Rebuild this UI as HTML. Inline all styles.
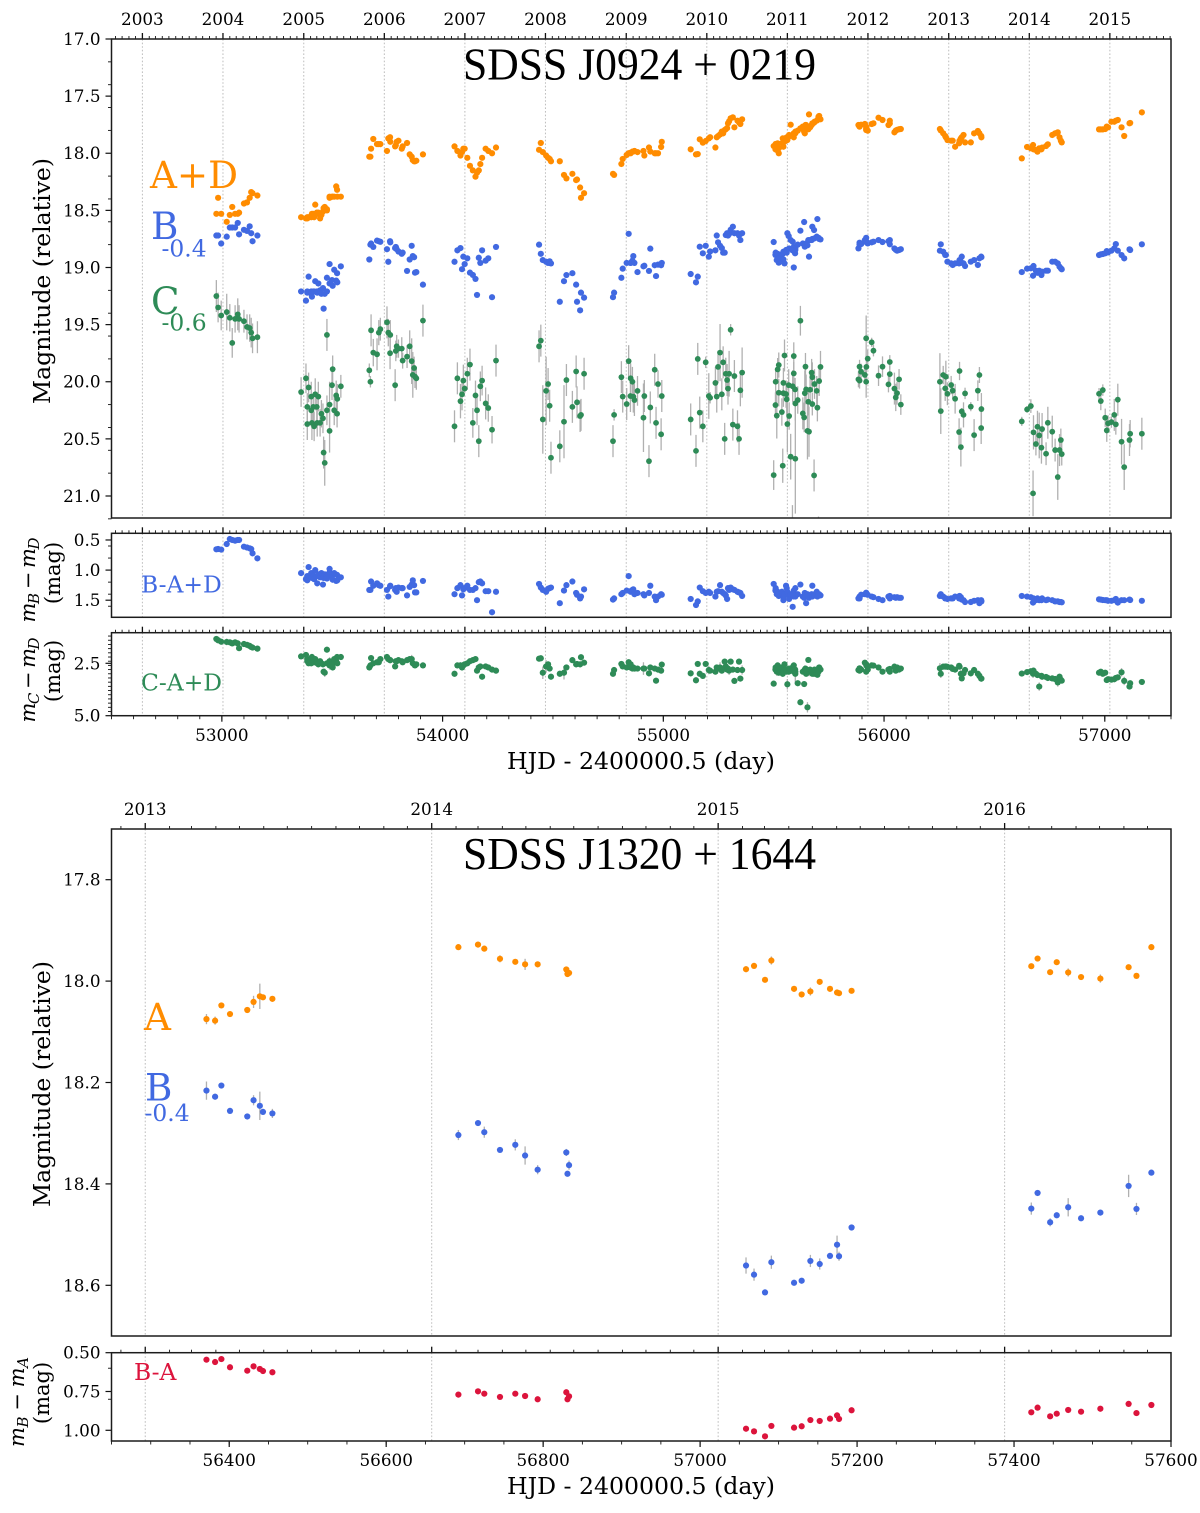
<!DOCTYPE html>
<html lang="en">
<head>
<meta charset="utf-8">
<title>SDSS J0924+0219 and SDSS J1320+1644 light curves</title>
<style>
html,body{margin:0;padding:0;background:#fff;}
svg{display:block;}
text{font-family:"DejaVu Serif","Liberation Serif",serif;fill:#000;}
.tick{font-size:16.8px;}
.axl{font-size:23.6px;}
.mathl{font-size:21px;}
.ttl{font-family:"Liberation Serif","DejaVu Serif",serif;font-size:45px;}
.big{font-size:37.3px;}
.sub{font-size:23.4px;}
</style>
</head>
<body>
<svg id="figure" xmlns="http://www.w3.org/2000/svg" width="1200" height="1513" viewBox="0 0 1200 1513">
<rect x="0" y="0" width="1200" height="1513" fill="#fff"/>
<g id="plots"></g>

<text class="ttl" x="463" y="79.5" textLength="353" lengthAdjust="spacingAndGlyphs">SDSS J0924 + 0219</text>
<text class="ttl" x="463" y="869" textLength="353" lengthAdjust="spacingAndGlyphs">SDSS J1320 + 1644</text>

<text class="big" x="150" y="188" style="fill:#ff8c00">A+D</text>
<text class="big" x="151" y="239" style="fill:#4169e1">B</text>
<text class="sub" x="161.5" y="256.5" style="fill:#4169e1">-0.4</text>
<text class="big" x="151" y="314" style="fill:#2e8b57">C</text>
<text class="sub" x="161.5" y="330.5" style="fill:#2e8b57">-0.6</text>
<text class="sub" x="141" y="592.5" style="fill:#4169e1">B-A+D</text>
<text class="sub" x="141" y="690.5" style="fill:#2e8b57">C-A+D</text>

<text class="big" x="144" y="1030" style="fill:#ff8c00">A</text>
<text class="big" x="145" y="1100.5" style="fill:#4169e1">B</text>
<text class="sub" x="144.5" y="1121" style="fill:#4169e1">-0.4</text>
<text class="sub" x="134" y="1380" style="fill:#dc143c">B-A</text>

<text class="axl" text-anchor="middle" transform="translate(50,281) rotate(-90)" textLength="246" lengthAdjust="spacingAndGlyphs">Magnitude (relative)</text>
<text class="axl" text-anchor="middle" transform="translate(50,1084) rotate(-90)" textLength="246" lengthAdjust="spacingAndGlyphs">Magnitude (relative)</text>
<text class="axl" text-anchor="middle" x="641" y="769">HJD - 2400000.5 (day)</text>
<text class="axl" text-anchor="middle" x="641" y="1494">HJD - 2400000.5 (day)</text>

<text class="mathl" text-anchor="middle" transform="translate(35,580) rotate(-90)" textLength="85"><tspan font-style="italic">m</tspan><tspan font-style="italic" font-size="15" dy="4">B</tspan><tspan dy="-4"> − </tspan><tspan font-style="italic">m</tspan><tspan font-style="italic" font-size="15" dy="4">D</tspan></text>
<text class="mathl" text-anchor="middle" transform="translate(60,573) rotate(-90)">(mag)</text>
<text class="mathl" text-anchor="middle" transform="translate(35,680) rotate(-90)" textLength="85"><tspan font-style="italic">m</tspan><tspan font-style="italic" font-size="15" dy="4">C</tspan><tspan dy="-4"> − </tspan><tspan font-style="italic">m</tspan><tspan font-style="italic" font-size="15" dy="4">D</tspan></text>
<text class="mathl" text-anchor="middle" transform="translate(60,671) rotate(-90)">(mag)</text>
<text class="mathl" text-anchor="middle" transform="translate(24,1402) rotate(-90)" textLength="90"><tspan font-style="italic">m</tspan><tspan font-style="italic" font-size="15" dy="4">B</tspan><tspan dy="-4"> − </tspan><tspan font-style="italic">m</tspan><tspan font-style="italic" font-size="15" dy="4">A</tspan></text>
<text class="mathl" text-anchor="middle" transform="translate(49,1393) rotate(-90)">(mag)</text>
</svg>

<script>
// ---------- Chart 1: SDSS J0924+0219 (one row per observing season) ----------
const epochs1 = [
52975,52983,52997,53022,53036,53047,53060,53072,53078,53100,53114,53126,53133,53139,53161,
53359,53381,53387,53387,53393,53405,53405,53408,53414,53418,53423,53430,53432,53437,53445,53451,53458,53461,53466,53476,53476,53488,53488,53499,53502,53509,53518,53522,53523,53539,
53668,53673,53676,53686,53703,53711,53718,53748,53754,53762,53763,53785,53788,53792,53800,53815,53819,53839,53851,53860,53865,53871,53875,53881,53911,
54054,54067,54081,54088,54094,54100,54112,54124,54137,54149,54156,54164,54171,54179,54195,54207,54224,54242,
54437,54445,54454,54469,54478,54485,54491,54531,54550,54561,54588,54605,54609,54623,54627,54641,
54772,54777,54810,54816,54834,54843,54851,54852,54860,54864,54869,54883,54910,54914,54935,54941,54961,54967,54976,54990,54993,
55124,55148,55156,55165,55179,55192,55206,55212,55236,55242,55248,55257,55265,55271,55278,55283,55289,55293,55298,55305,55315,55322,55336,55343,55349,55357,
55500,55508,55509,55514,55518,55523,55523,55537,55541,55544,55544,55549,55556,55559,55562,55568,55570,55577,55586,55591,55591,55597,55598,55598,55609,55621,55632,55638,55641,55644,55647,55653,55657,55660,55665,55672,55675,55675,55683,55685,55695,55698,55706,55712,55585,55703,
55884,55889,55889,55896,55913,55919,55919,55920,55926,55944,55952,55975,55993,56020,56026,56026,56047,56053,56059,56068,56076,
56253,56257,56268,56277,56280,56287,56304,56311,56322,56340,56342,56348,56352,56360,56367,56393,56408,56425,56432,56440,56441,
56624,56648,56665,56675,56677,56688,56695,56703,56713,56716,56734,56742,56762,56775,56787,56795,56801,56805,
56974,56982,56991,57002,57009,57015,57030,57043,57050,57059,57076,57088,57112,57115,57168
];
const magAD = [
18.53,18.39,18.53,18.60,18.54,18.47,18.53,18.53,18.52,18.44,18.43,18.39,18.34,18.35,18.37,
18.56,18.57,18.57,18.56,18.56,18.55,18.56,18.53,18.53,18.56,18.45,18.52,18.53,18.52,18.57,18.54,18.51,18.48,18.47,18.50,18.49,18.38,18.39,18.38,18.38,18.38,18.29,18.32,18.38,18.38,
18.03,18.03,17.96,17.875,17.92,17.92,17.92,17.98,17.87,17.86,17.90,17.94,17.93,17.90,17.89,17.96,17.94,17.91,18.01,18.03,18.06,18.07,18.07,18.065,18.01,
17.94,17.98,18.02,17.99,17.96,17.96,18.04,18.11,18.15,18.205,18.17,18.15,18.095,18.04,17.96,17.98,18.0,17.95,
17.97,17.91,17.99,18.02,18.04,18.05,18.07,18.07,18.19,18.22,18.18,18.235,18.23,18.30,18.39,18.35,
18.18,18.19,18.094,18.05,18.015,18.0,17.995,18.0,17.986,17.985,17.98,17.99,17.98,18.02,17.95,17.985,18.0,18.0,18.0,17.945,17.90,
17.966,18.01,18.007,17.878,17.907,17.893,17.87,17.86,17.95,17.86,17.85,17.835,17.81,17.826,17.797,17.79,17.78,17.738,17.72,17.694,17.686,17.773,17.715,17.73,17.744,17.703,
17.937,17.966,17.919,17.972,17.913,18.0,17.957,17.913,17.87,17.899,17.943,17.899,17.884,17.861,17.884,17.855,17.84,17.75,17.84,17.861,17.826,17.826,17.811,17.826,17.802,17.782,17.767,17.811,17.826,17.753,17.753,17.773,17.79,17.66,17.773,17.753,17.744,17.738,17.732,17.724,17.715,17.709,17.674,17.703,17.84,17.68,
17.753,17.767,17.755,17.75,17.744,17.797,17.78,17.77,17.802,17.744,17.738,17.689,17.709,17.753,17.715,17.74,17.817,17.802,17.795,17.79,17.788,
17.788,17.80,17.826,17.849,17.86,17.884,17.89,17.89,17.943,17.913,17.89,17.87,17.86,17.84,17.905,17.905,17.826,17.805,17.826,17.849,17.861,
18.045,17.945,17.957,17.928,17.966,17.972,17.986,17.957,17.966,17.951,17.937,17.922,17.84,17.826,17.817,17.861,17.89,17.905,
17.791,17.791,17.791,17.788,17.767,17.773,17.724,17.724,17.715,17.709,17.773,17.849,17.738,17.735,17.642
];
const magB = [
18.72,18.72,18.79,18.73,18.65,18.65,18.65,18.61,18.71,18.67,18.68,18.64,18.70,18.77,18.72,
19.21,19.29,19.22,19.21,19.08,19.23,19.21,19.255,19.21,19.21,19.12,19.21,19.22,19.14,19.20,19.23,19.18,19.36,19.23,19.09,19.21,19.14,18.97,19.11,19.16,19.02,19.115,19.05,19.13,18.99,
18.93,18.80,18.79,18.82,18.765,18.77,18.775,18.84,18.95,18.77,18.78,18.83,18.82,18.84,18.86,18.88,18.87,19.03,18.93,18.81,18.90,18.91,19.045,19.04,19.15,
18.95,18.85,18.83,19.015,18.905,18.97,18.92,19.045,19.065,19.10,19.24,18.915,18.96,18.85,18.94,18.92,19.26,18.82,
18.80,18.88,18.935,18.95,18.96,18.946,18.964,19.30,19.12,19.066,19.05,19.15,19.30,19.375,19.22,19.264,
19.26,19.22,19.09,19.01,18.96,18.705,18.96,18.96,18.94,18.90,18.96,19.04,18.99,18.985,19.03,18.835,18.98,19.075,18.975,18.98,18.96,
19.057,19.13,19.08,18.818,18.876,18.81,18.905,18.86,18.85,18.72,18.78,18.81,18.83,18.87,18.87,18.716,18.70,18.72,18.707,18.67,18.643,18.70,18.70,18.72,18.76,18.70,
18.777,18.89,18.87,18.935,18.88,18.958,18.92,18.885,18.88,18.862,18.93,18.964,18.847,18.87,18.70,18.725,18.833,18.76,18.774,19.0,18.82,18.876,18.847,18.83,18.80,18.678,18.79,18.602,18.818,18.80,18.79,18.806,18.76,18.905,18.76,18.76,18.643,18.75,18.672,18.745,18.73,18.576,18.75,18.754,18.85,18.74,
18.833,18.783,18.80,18.795,18.76,18.74,18.77,18.78,18.789,18.78,18.774,18.76,18.777,18.77,18.76,18.797,18.833,18.845,18.853,18.847,18.84,
18.853,18.797,18.862,18.89,18.89,18.949,18.964,18.978,18.964,18.964,18.935,18.95,18.905,18.964,18.987,18.949,18.935,18.978,18.92,18.905,18.91,
19.04,19.01,19.007,19.072,18.987,19.028,19.046,19.028,19.066,19.037,19.028,19.028,18.949,18.949,18.964,18.993,19.007,19.016,
18.891,18.885,18.882,18.876,18.856,18.868,18.853,18.833,18.795,18.853,18.891,18.92,18.841,18.847,18.797
];
const magC = [
19.25,19.35,19.42,19.39,19.44,19.66,19.45,19.41,19.45,19.47,19.52,19.53,19.57,19.62,19.61,
20.09,19.97,20.22,20.37,20.05,20.13,20.25,20.36,20.22,20.39,20.11,20.22,20.36,20.13,20.36,20.28,20.32,20.62,20.71,19.59,20.25,20.20,20.43,20.03,19.89,20.25,20.12,20.28,20.15,20.04,
19.90,20.00,19.55,19.745,19.76,19.57,19.54,19.48,19.57,19.75,19.59,20.03,19.73,19.69,19.71,19.71,19.815,19.78,19.69,19.82,19.94,19.88,19.955,19.97,19.465,
20.39,19.97,20.17,20.11,19.99,20.06,19.93,19.85,20.36,20.12,20.25,20.52,20.04,19.99,20.19,20.23,20.42,19.815,
19.69,19.64,20.33,20.08,20.02,20.21,20.665,20.565,20.35,19.985,20.22,19.91,20.18,20.30,20.29,19.93,
20.52,20.29,19.96,20.13,20.195,19.82,20.125,19.97,20.0,20.13,20.16,20.08,20.315,20.125,20.695,20.225,19.895,20.36,20.02,20.46,20.125,
20.33,20.605,19.80,20.27,20.39,19.83,20.125,20.14,20.01,20.13,19.87,19.745,20.11,19.83,20.50,19.93,19.985,20.06,19.93,19.545,20.375,19.95,20.39,20.50,20.075,19.92,
20.817,20.204,20.0,20.297,19.892,20.096,19.854,20.265,20.735,20.01,20.10,19.77,20.108,20.154,20.37,20.03,20.30,20.656,20.04,19.775,19.927,20.067,20.674,20.19,20.16,19.466,20.277,20.312,20.10,19.868,20.067,20.43,20.175,20.437,20.07,19.92,20.195,19.96,20.82,20.02,20.08,20.227,19.994,19.87,21.25,21.35,
19.979,19.99,19.868,19.912,19.94,20.0,19.62,19.87,19.798,19.655,19.728,19.947,19.868,20.023,19.827,19.933,20.06,20.137,20.1,19.979,20.2,
20.0,20.257,19.941,20.058,19.956,20.105,20.029,20.078,20.149,20.44,19.906,20.572,20.26,20.29,20.102,20.218,20.467,20.078,19.941,20.405,20.239,
20.347,20.242,20.213,20.977,20.443,20.545,20.394,20.47,20.577,20.414,20.63,20.359,20.437,20.598,20.834,20.598,20.51,20.633,
20.105,20.169,20.073,20.315,20.426,20.364,20.353,20.29,20.373,20.157,20.525,20.747,20.51,20.455,20.455
];
const errC = [
.14,.13,.13,.16,.12,.13,.12,.14,.12,.1,.11,.12,.13,.13,.14,
.13,.13,.12,.14,.13,.13,.14,.15,.12,.13,.14,.13,.12,.13,.12,.12,.13,.14,.2,.14,.13,.2,.19,.13,.12,.13,.13,.12,.13,.1,
.06,.05,.14,.12,.14,.11,.1,.14,.12,.14,.13,.14,.09,.1,.08,.1,.07,.1,.14,.2,.2,.1,.1,.1,.14,
.14,.14,.15,.14,.14,.03,.14,.14,.13,.13,.13,.14,.13,.13,.14,.12,.12,.14,
.14,.14,.3,.3,.14,.14,.14,.14,.32,.14,.14,.14,.14,.14,.14,.14,
.14,.05,.14,.14,.14,.14,.14,.13,.13,.14,.14,.13,.3,.14,.14,.14,.14,.14,.12,.14,.14,
.14,.14,.14,.14,.14,.05,.2,.05,.14,.14,.14,.25,.14,.14,.14,.14,.14,.14,.2,.05,.14,.14,.14,.14,.14,.22,
.13,.11,.12,.2,.10,.12,.11,.12,.15,.13,.12,.14,.12,.14,.25,.14,.12,.2,.14,.12,.1,.1,.48,.15,.12,.13,.14,.13,.2,.12,.13,.25,.12,.22,.13,.12,.1,.13,.14,.13,.13,.12,.13,.14,.17,.17,
.07,.07,.06,.07,.07,.14,.2,.1,.08,.04,.05,.09,.09,.07,.06,.07,.14,.12,.1,.09,.09,
.25,.2,.08,.11,.14,.1,.08,.07,.13,.12,.08,.17,.03,.11,.05,.04,.14,.09,.07,.14,.14,
.04,.03,.06,.2,.15,.1,.14,.2,.14,.14,.1,.14,.14,.1,.2,.14,.1,.1,
.05,.08,.05,.08,.1,.07,.05,.14,.09,.14,.2,.2,.14,.12,.14
];
const diffBAD = [
.655,.65,.66,.567,.484,.50,.511,.50,.50,.611,.625,.639,.65,.722,.805,
1.05,1.15,1.10,1.17,.95,1.12,1.05,1.13,1.09,1.15,1.00,1.10,1.22,1.07,1.12,1.05,1.24,1.13,1.07,1.10,1.14,.98,1.04,1.10,1.16,1.05,1.18,1.08,1.17,1.12,
1.33,1.33,1.19,1.26,1.22,1.25,1.26,1.33,1.44,1.27,1.26,1.33,1.30,1.36,1.29,1.30,1.30,1.42,1.28,1.24,1.17,1.25,1.37,1.37,1.18,
1.40,1.30,1.25,1.42,1.32,1.30,1.26,1.33,1.33,1.30,1.50,1.20,1.19,1.22,1.35,1.35,1.70,1.36,
1.23,1.29,1.33,1.36,1.31,1.30,1.29,1.55,1.34,1.25,1.19,1.38,1.41,1.47,1.44,1.32,
1.49,1.47,1.40,1.38,1.34,1.10,1.35,1.36,1.33,1.32,1.40,1.38,1.40,1.42,1.38,1.26,1.44,1.50,1.44,1.40,1.41,
1.48,1.58,1.52,1.29,1.35,1.38,1.36,1.38,1.44,1.36,1.35,1.25,1.36,1.38,1.40,1.42,1.48,1.30,1.33,1.29,1.32,1.33,1.36,1.37,1.38,1.43,
1.23,1.34,1.30,1.40,1.36,1.43,1.38,1.36,1.42,1.50,1.45,1.40,1.26,1.30,1.36,1.42,1.48,1.40,1.61,1.44,1.34,1.42,1.44,1.30,1.40,1.24,1.44,1.46,1.38,1.42,1.55,1.40,1.44,1.46,1.42,1.40,1.26,1.44,1.42,1.40,1.36,1.44,1.40,1.42,1.40,1.41,
1.47,1.47,1.44,1.41,1.40,1.375,1.39,1.40,1.41,1.44,1.45,1.48,1.50,1.44,1.43,1.47,1.45,1.46,1.45,1.46,1.46,
1.43,1.40,1.44,1.47,1.47,1.48,1.47,1.47,1.44,1.47,1.43,1.45,1.49,1.50,1.53,1.53,1.51,1.50,1.55,1.50,1.52,
1.43,1.44,1.45,1.54,1.47,1.50,1.47,1.50,1.50,1.47,1.50,1.49,1.50,1.52,1.52,1.53,1.53,1.535,
1.486,1.49,1.497,1.50,1.50,1.51,1.51,1.50,1.48,1.54,1.50,1.50,1.49,1.497,1.51
];
const diffCAD = [
1.34,1.40,1.47,1.48,1.50,1.55,1.50,1.55,1.78,1.58,1.62,1.67,1.72,1.75,1.80,
2.17,2.1,2.3,2.4,2.5,2.25,2.5,2.2,2.4,2.45,2.3,2.45,2.5,2.55,2.4,2.5,2.55,2.9,2.95,1.85,2.5,2.6,2.4,2.55,2.7,2.3,2.4,2.2,2.5,2.2,
2.7,2.6,2.25,2.5,2.45,2.45,2.3,2.2,2.3,2.35,2.35,2.65,2.4,2.4,2.35,2.4,2.45,2.35,2.3,2.3,2.5,2.55,2.6,2.55,2.6,
3.0,2.6,2.6,2.7,2.6,2.55,2.5,2.4,2.35,2.3,2.85,2.7,2.65,3.14,2.65,2.7,2.8,2.85,
2.28,2.26,2.95,2.65,2.55,2.75,3.14,3.0,2.95,2.7,2.35,2.55,2.53,2.55,2.21,2.47,
3.0,2.82,2.53,2.65,2.7,2.45,2.7,2.55,2.75,2.7,2.75,2.75,2.75,2.75,2.98,2.7,2.75,3.33,2.8,2.85,2.56,
2.98,3.31,2.53,3.0,3.1,2.53,2.82,2.85,2.9,2.7,2.75,2.7,2.85,2.75,2.42,2.65,2.8,2.75,2.85,2.42,2.8,3.34,2.82,2.42,3.23,2.82,
3.47,2.8,2.7,2.9,2.6,2.95,2.8,2.7,3.0,2.85,2.9,2.55,2.8,2.9,3.5,2.9,2.75,2.8,2.7,2.6,2.9,2.8,3.0,2.9,3.45,4.36,2.9,3.49,2.8,2.75,3.0,4.6,2.34,2.9,2.8,2.9,3.0,2.85,3.0,2.8,2.9,3.05,2.7,2.8,2.85,2.9,
2.82,2.85,2.74,2.8,2.47,2.9,2.55,2.6,2.8,2.6,2.61,2.7,2.9,2.8,2.9,2.77,2.66,2.85,2.7,2.8,2.75,
2.74,3.0,2.66,2.66,2.65,2.67,2.7,2.77,2.8,2.62,2.66,3.0,3.22,2.98,2.82,2.98,2.82,3.0,3.1,3.23,3.23,
2.99,2.92,2.88,3.0,2.85,3.0,3.06,3.61,3.1,3.14,3.15,3.2,3.22,3.25,3.41,3.14,3.28,3.33,
2.95,2.9,3.0,2.95,3.3,3.26,3.28,3.26,3.2,3.17,2.93,3.34,3.61,3.45,3.39
];

// ---------- Chart 2: SDSS J1320+1644 ----------
const epochs2 = [
56371,56382,56390,56401,56423,56431,56439,56443,56455,
56692,56717,56725,56745,56764.5,56777,56793,56829.5,56833,56831,
57058.5,57068.7,57082.7,57090.8,57119.7,57129.4,57140.5,57152.4,57165.5,57174.5,57177,57193,
57422,57430,57446,57454.4,57469,57485.4,57510,57546,57556,57575
];
const magA2 = [
18.075,18.078,18.048,18.065,18.057,18.041,18.03,18.032,18.035,
17.933,17.928,17.936,17.956,17.962,17.967,17.967,17.977,17.984,17.986,
17.9765,17.970,17.9975,17.9594,18.0153,18.0264,18.0205,18.0015,18.0153,18.0225,18.0238,18.0192,
17.9706,17.9555,17.9824,17.9627,17.983,17.992,17.995,17.9726,17.9897,17.933
];
const errA2 = [
.01,.008,.004,.004,.004,.012,.025,.004,.004,
.003,.003,.004,.007,.004,.011,.004,.004,.004,.004,
.006,.003,.003,.008,.003,.003,.008,.003,.003,.003,.003,.003,
.003,.003,.003,.003,.008,.003,.008,.004,.003,.003
];
const magB2 = [
18.216,18.228,18.206,18.256,18.267,18.235,18.246,18.258,18.261,
18.3036,18.28,18.298,18.333,18.323,18.344,18.372,18.338,18.363,18.380,
18.561,18.579,18.614,18.5545,18.595,18.591,18.552,18.558,18.542,18.520,18.5427,18.486,
18.4487,18.4179,18.4757,18.4619,18.4461,18.4678,18.4566,18.404,18.4494,18.3778
];
const errB2 = [
.018,.006,.004,.005,.004,.01,.028,.006,.009,
.01,.004,.011,.004,.011,.018,.009,.007,.009,.005,
.016,.012,.004,.013,.004,.004,.012,.011,.004,.018,.009,.004,
.012,.003,.008,.004,.018,.003,.003,.022,.012,.003
];
const diffBA2 = [
.545,.560,.541,.594,.616,.588,.605,.618,.626,
.770,.749,.764,.785,.764,.779,.800,.755,.781,.800,
.990,1.007,1.039,.972,.983,.974,.934,.940,.925,.904,.927,.871,
.884,.854,.910,.893,.869,.880,.861,.830,.889,.837
];

// ---------- Tick labels ----------
const yearsChart1 = [2003,2004,2005,2006,2007,2008,2009,2010,2011,2012,2013,2014,2015];
const yearsChart2 = [2013,2014,2015,2016];
const ticksMag1 = [17.0,17.5,18.0,18.5,19.0,19.5,20.0,20.5,21.0];
const minorMag1 = [17.2,17.4,17.6,17.8,18.2,18.4,18.6,18.8,19.2,19.4,19.6,19.8,20.2,20.4,20.6,20.8,21.2];
const ticksBAD = [0.5,1.0,1.5];
const minorBAD = [0.6,0.8,1.2,1.4,1.6];
const ticksCAD = [2.5,5.0];
const minorCAD = [1.2,1.4,1.6,1.8,2.0,2.2,2.4,2.6,2.8,3.0,3.2,3.4,3.6,3.8,4.0,4.2,4.4,4.6,4.8];
const ticksMag2 = [17.8,18.0,18.2,18.4,18.6];
const ticksBA2 = [0.50,0.75,1.00];
const minorBA2 = [0.6,0.8];
const ticksDay1 = [53000,54000,55000,56000,57000];
const ticksDay2 = [56400,56600,56800,57000,57200,57400,57600];

const colorAD = '#ff8c00';
const colorB = '#4169e1';
const colorC = '#2e8b57';
const colorBA = '#dc143c';

const NS = 'http://www.w3.org/2000/svg';
const root = document.getElementById('plots');

function make(tag, attrs, parent) {
  const node = document.createElementNS(NS, tag);
  for (const k in attrs) node.setAttribute(k, attrs[k]);
  parent.appendChild(node);
  return node;
}

function makePanel(id, box, xDomain, yDomain, yearList) {
  const sx = (box.right - box.left) / (xDomain[1] - xDomain[0]);
  const sy = (box.bottom - box.top) / (yDomain[1] - yDomain[0]);
  const p = {
    id: id, box: box, yearList: yearList,
    xDomain: xDomain,
    x: function (d) { return box.left + (d - xDomain[0]) * sx; },
    y: function (m) { return box.top + (m - yDomain[0]) * sy; }
  };
  p.g = make('g', {}, root);
  
  
  const clip = make('clipPath', { id: 'clip-' + id }, p.g);
  make('rect', { x: box.left, y: box.top, width: box.right - box.left, height: box.bottom - box.top }, clip);
  p.marks = make('g', { 'clip-path': 'url(#clip-' + id + ')' }, p.g);
  return p;
}

function yearDay(y, m) { return Date.UTC(y, m, 1) / 86400000 + 40587; }

function drawYearLines(p) {
  p.yearList.forEach(function (yr) {
    const xp = p.x(yearDay(yr, 0));
    const line = make('line', { x1: xp, x2: xp, y1: p.box.top, y2: p.box.bottom, stroke: '#bdbdbd', 'stroke-width': 1, 'stroke-dasharray': '1.6 2' }, p.marks);
    
    
  });
}

function drawTopTicks(p, labelBaseline) {
  for (let yr = 2001; yr <= 2018; yr++) {
    for (let mo = 0; mo < 12; mo++) {
      const d = yearDay(yr, mo);
      if (d < p.xDomain[0] || d > p.xDomain[1]) continue;
      const xp = p.x(d);
      const len = (mo === 0 && p.yearList.indexOf(yr) >= 0) ? 6 : 3;
      const t = make('line', { x1: xp, x2: xp, y1: p.box.top, y2: p.box.top - len, stroke: '#111', 'stroke-width': mo === 0 ? 1.3 : 0.9 }, p.g);
      
      
    }
  }
  if (labelBaseline) {
    p.yearList.forEach(function (yr) {
      const lab = make('text', { class: 'tick', x: p.x(yearDay(yr, 0)), y: labelBaseline, 'text-anchor': 'middle' }, p.g);
      lab.textContent = String(yr);
      
      
    });
  }
}

function drawYTicks(p, majors, minors, digits) {
  majors.forEach(function (m) {
    const yp = p.y(m);
    const t = make('line', { x1: p.box.left, x2: p.box.left - 6, y1: yp, y2: yp, stroke: '#111', 'stroke-width': 1.2 }, p.g);
    
    
    const lab = make('text', { class: 'tick', x: p.box.left - 11, y: yp + 6, 'text-anchor': 'end' }, p.g);
    lab.textContent = m.toFixed(digits);
    
    
  });
  minors.forEach(function (m) {
    const yp = p.y(m);
    const t = make('line', { x1: p.box.left, x2: p.box.left - 3.5, y1: yp, y2: yp, stroke: '#111', 'stroke-width': 0.9 }, p.g);
    
    
  });
}

function drawXTicks(p, majors, minorStep, labelBaseline) {
  const start = Math.ceil(p.xDomain[0] / minorStep) * minorStep;
  for (let d = start; d <= p.xDomain[1]; d += minorStep) {
    const xp = p.x(d);
    const t = make('line', { x1: xp, x2: xp, y1: p.box.bottom, y2: p.box.bottom + 3.5, stroke: '#111', 'stroke-width': 0.9 }, p.g);
    
    
  }
  majors.forEach(function (d) {
    const xp = p.x(d);
    const t = make('line', { x1: xp, x2: xp, y1: p.box.bottom, y2: p.box.bottom + 6, stroke: '#111', 'stroke-width': 1.2 }, p.g);
    
    
    const lab = make('text', { class: 'tick', x: xp, y: labelBaseline, 'text-anchor': 'middle' }, p.g);
    lab.textContent = String(d);
    
    
  });
}

function drawSpines(p) {
  const r = make('rect', { x: p.box.left, y: p.box.top, width: p.box.right - p.box.left, height: p.box.bottom - p.box.top, fill: 'none', stroke: '#1c1c1c', 'stroke-width': 1.5 }, p.g);
  
  
}

function drawSeries(p, name, days, vals, errs, color, radius) {
  days.forEach(function (d, i) {
    const xp = p.x(d);
    if (errs) {
      const bar = make('line', { x1: xp, x2: xp, y1: p.y(vals[i] - errs[i]), y2: p.y(vals[i] + errs[i]), stroke: '#b0b0b0', 'stroke-width': 1.3 }, p.marks);
      
      
    }
  });
  days.forEach(function (d, i) {
    const dot = make('circle', { cx: p.x(d), cy: p.y(vals[i]), r: radius, fill: color }, p.marks);
    
    
  });
}

// ---------- Panels ----------
const L = 111.5, R = 1171;
const pMag1 = makePanel('panel-j0924-magnitude', { left: L, right: R, top: 39, bottom: 518 }, [52500, 57300], [17.0, 21.1926], yearsChart1);
const pBAD = makePanel('panel-j0924-b-minus-ad', { left: L, right: R, top: 533.3, bottom: 617.3 }, [52500, 57300], [0.389, 1.784], yearsChart1);
const pCAD = makePanel('panel-j0924-c-minus-ad', { left: L, right: R, top: 632.7, bottom: 715.7 }, [52500, 57300], [1.04, 5.0], yearsChart1);
const pMag2 = makePanel('panel-j1320-magnitude', { left: L, right: R, top: 829, bottom: 1336 }, [56250, 57600], [17.7, 18.7], yearsChart2);
const pBA2 = makePanel('panel-j1320-b-minus-a', { left: L, right: R, top: 1352.7, bottom: 1441 }, [56250, 57600], [0.5, 1.069], yearsChart2);

[pMag1, pBAD, pCAD, pMag2, pBA2].forEach(drawYearLines);

drawSeries(pMag1, 'a-plus-d', epochs1, magAD, null, colorAD, 3.1);
drawSeries(pMag1, 'b-image', epochs1, magB, null, colorB, 3.1);
drawSeries(pMag1, 'c-image', epochs1, magC, errC, colorC, 2.9);
drawSeries(pBAD, 'b-minus-ad', epochs1, diffBAD, null, colorB, 3.1);
drawSeries(pCAD, 'c-minus-ad', epochs1, diffCAD, errC, colorC, 3.1);
drawSeries(pMag2, 'a-image', epochs2, magA2, errA2, colorAD, 3.1);
drawSeries(pMag2, 'b-image-second', epochs2, magB2, errB2, colorB, 3.1);
drawSeries(pBA2, 'b-minus-a', epochs2, diffBA2, null, colorBA, 3.1);

drawTopTicks(pMag1, 25);
drawTopTicks(pBAD, 0);
drawTopTicks(pCAD, 0);
drawTopTicks(pMag2, 815);
drawTopTicks(pBA2, 0);

drawYTicks(pMag1, ticksMag1, minorMag1, 1);
drawYTicks(pBAD, ticksBAD, minorBAD, 1);
drawYTicks(pCAD, ticksCAD, minorCAD, 1);
drawYTicks(pMag2, ticksMag2, [], 1);
drawYTicks(pBA2, ticksBA2, minorBA2, 2);

drawXTicks(pCAD, ticksDay1, 100, 741);
drawXTicks(pBA2, ticksDay2, 50, 1466);

[pMag1, pBAD, pCAD, pMag2, pBA2].forEach(drawSpines);
</script>
</body>
</html>
